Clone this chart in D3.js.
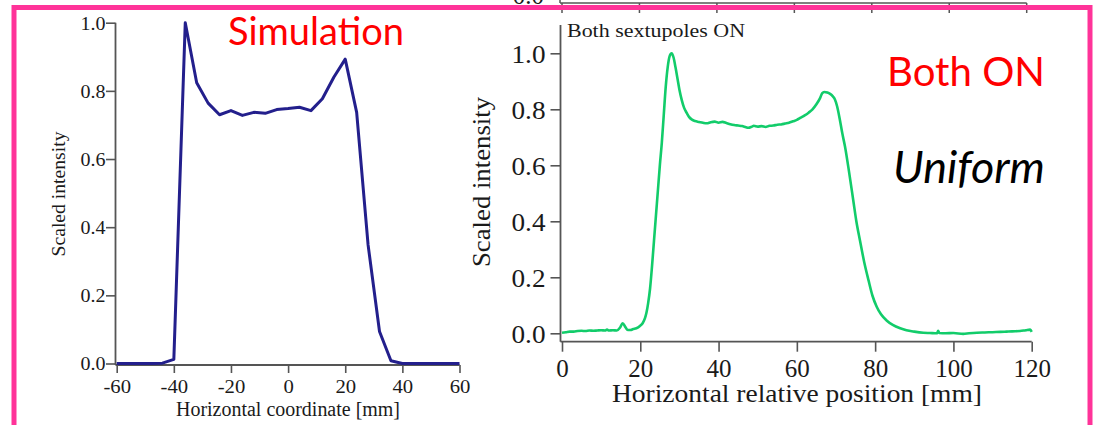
<!DOCTYPE html>
<html><head><meta charset="utf-8">
<script src="https://cdn.jsdelivr.net/npm/d3@7"></script>
<style>html,body{margin:0;padding:0;background:#fff;overflow:hidden}</style>
</head><body>
<svg id="c" width="1095" height="425"></svg>
<script>
// ---- Simulation (left) ----
const simX = [-60,-56,-52,-48,-44,-40,-36,-32,-28,-24,-20,-16,-12,-8,-4,0,4,8,12,16,20,24,28,32,36,40,44,48,52,56,60];
const simY = [0,0,0,0,0.001,0.012,1.0,0.824,0.764,0.730,0.742,0.728,0.737,0.734,0.745,0.748,0.752,0.742,0.777,0.840,0.893,0.737,0.348,0.094,0.008,0,0,0,0,0,0];
const simXTicks = [-60,-40,-20,0,20,40,60];
const simYTicks = [0,0.2,0.4,0.6,0.8,1.0];

// ---- Measured, both sextupoles ON (right) ----
const measX = [0,1,2,3,4,5,6,7,8,9,10,11,11.5,12,13,14,14.8,15.5,16.2,16.8,17.5,18.2,19,19.9,20.6,21.2,21.6,22,22.5,23,23.5,24,24.5,25,25.5,26,26.5,27,27.5,28,28.5,29,29.5,30,30.6,31.2,31.9,32.5,33.2,34,35,36,37,38,39,40,41,42,43,44,45,46,47,47.6,48.5,49,50,51,52,53,54,55,56,57,58,59,60,61,62,63,64,65,65.9,66.5,67,67.8,68.5,69.2,69.7,70.3,71,71.6,72.3,73.3,74.4,75.2,76.1,77.2,78.3,79.3,80.4,81.5,83,84.5,86.4,88,90,92.3,94,95.8,96.1,96.4,98,100,102.5,104,106,108,110,112,113.6,115,117,118.5,119.6,120];
const measY = [0.002,0.004,0.006,0.006,0.008,0.009,0.008,0.010,0.009,0.010,0.011,0.010,0.013,0.010,0.011,0.010,0.020,0.036,0.022,0.012,0.012,0.015,0.018,0.026,0.036,0.054,0.075,0.107,0.16,0.24,0.33,0.42,0.51,0.60,0.68,0.78,0.88,0.95,0.99,1.0,0.985,0.95,0.91,0.87,0.833,0.805,0.786,0.772,0.763,0.758,0.755,0.752,0.750,0.754,0.756,0.752,0.755,0.751,0.747,0.744,0.742,0.740,0.736,0.734,0.738,0.741,0.738,0.740,0.737,0.741,0.742,0.745,0.746,0.749,0.752,0.757,0.762,0.770,0.778,0.788,0.800,0.818,0.839,0.858,0.862,0.860,0.855,0.846,0.836,0.810,0.762,0.715,0.667,0.580,0.476,0.400,0.333,0.255,0.190,0.135,0.095,0.068,0.045,0.030,0.018,0.011,0.006,0.002,0.001,0.000,0.009,0.001,0.000,0.001,-0.002,0.000,0.002,0.003,0.004,0.005,0.006,0.007,0.008,0.011,0.013,0.005];
const measXTicks = [0,20,40,60,80,100,120];
const measYTicks = [0,0.2,0.4,0.6,0.8,1.0];

// fragment of the chart above (cut off)
const topXTicks = [0,20,40,60,80,100,120];

const svg = d3.select("#c");
const SERIF = "'Liberation Serif','Times New Roman',serif";
const AX = "#555";
const TXT = "#1a1a1a";
const hy = d => String(d).replace("\u2212","-");

// horizontally stretch a text to a target width (the source figure is stretched)
function stretch(sel, w){
  sel.attr("textLength", w).attr("lengthAdjust","spacingAndGlyphs");
}

// ---------- top fragment ----------
const xTop = d3.scaleLinear().domain([0,120]).range([562,1026.7]);
const gTop = svg.append("g");
gTop.append("line").attr("x1",560).attr("x2",1026.7).attr("y1",3).attr("y2",3).attr("stroke",AX).attr("stroke-width",1.5);
gTop.append("line").attr("x1",560).attr("x2",560).attr("y1",0).attr("y2",3).attr("stroke",AX).attr("stroke-width",1.5);
gTop.selectAll("line.t").data(topXTicks).join("line").attr("class","t")
  .attr("x1",d=>xTop(d)).attr("x2",d=>xTop(d)).attr("y1",3).attr("y2",13).attr("stroke",AX).attr("stroke-width",1.5);
gTop.append("text").attr("x",544).attr("y",4).attr("text-anchor","end")
  .attr("font-family",SERIF).attr("font-size",25).attr("fill",TXT).text("0.0");

// ---------- left chart ----------
const xL = d3.scaleLinear().domain([-60,60]).range([116.7,459.5]);
const yL = d3.scaleLinear().domain([0,1]).range([363.5,22.7]);
const gL = svg.append("g");
const axYL = gL.append("g").attr("transform","translate(115.5,0)")
  .call(d3.axisLeft(yL).tickValues(simYTicks).tickFormat(d3.format(".1f")).tickSize(9.5).tickSizeOuter(0));
axYL.select(".domain").remove();
axYL.selectAll("line").attr("stroke",AX).attr("stroke-width",1.6);
axYL.selectAll("text").attr("x",-10).attr("dy","0.35em").attr("font-family",SERIF).attr("font-size",18).attr("fill",TXT)
  .each(function(){ stretch(d3.select(this), 25); });
const axXL = gL.append("g").attr("transform","translate(0,365)")
  .call(d3.axisBottom(xL).tickValues(simXTicks).tickFormat(d=>hy(d)).tickSize(8).tickSizeOuter(0));
axXL.select(".domain").remove();
axXL.selectAll("line").attr("stroke",AX).attr("stroke-width",1.6);
axXL.selectAll("text").attr("y",28).attr("dy",null).attr("font-family",SERIF).attr("font-size",18).attr("fill",TXT)
  .each(function(d){ const s=d3.select(this); s.attr("textLength", s.node().getComputedTextLength()*1.15).attr("lengthAdjust","spacingAndGlyphs"); });
gL.append("line").attr("x1",115.5).attr("x2",115.5).attr("y1",yL(1)).attr("y2",365).attr("stroke",AX).attr("stroke-width",1.8);
gL.append("line").attr("x1",115.5).attr("x2",xL(60)).attr("y1",365).attr("y2",365).attr("stroke",AX).attr("stroke-width",1.8);
gL.append("path").datum(simX.map((x,i)=>[x,simY[i]]))
  .attr("fill","none").attr("stroke","#231f8c").attr("stroke-width",3).attr("stroke-linejoin","round")
  .attr("d",d3.line().x(d=>xL(d[0])).y(d=>yL(d[1])));
stretch(gL.append("text").attr("x",176).attr("y",416)
  .attr("font-family",SERIF).attr("font-size",20).attr("fill",TXT).text("Horizontal coordinate [mm]"),224);
stretch(gL.append("text").attr("transform","translate(65,256.5) rotate(-90)")
  .attr("font-family",SERIF).attr("font-size",19).attr("fill",TXT).text("Scaled intensity"),125);

// ---------- right chart ----------
const xR = d3.scaleLinear().domain([0,120]).range([562,1031.7]);
const yR = d3.scaleLinear().domain([0,1]).range([333.3,53.3]);
const gR = svg.append("g");
const axYR = gR.append("g").attr("transform","translate(560.5,0)")
  .call(d3.axisLeft(yR).tickValues(measYTicks).tickFormat(d3.format(".1f")).tickSize(10).tickSizeOuter(0));
axYR.select(".domain").remove();
axYR.selectAll("line").attr("stroke",AX).attr("stroke-width",1.6);
axYR.selectAll("text").attr("x",-15).attr("dy","0.35em").attr("font-family",SERIF).attr("font-size",25).attr("fill",TXT)
  .each(function(){ stretch(d3.select(this), 34); });
const axXR = gR.append("g").attr("transform","translate(0,341.7)")
  .call(d3.axisBottom(xR).tickValues(measXTicks).tickSize(10).tickSizeOuter(0));
axXR.select(".domain").remove();
axXR.selectAll("line").attr("stroke",AX).attr("stroke-width",1.6);
axXR.selectAll("text").attr("y",35).attr("dy",null).attr("font-family",SERIF).attr("font-size",25).attr("fill",TXT);
gR.append("line").attr("x1",560.5).attr("x2",560.5).attr("y1",25).attr("y2",341.7).attr("stroke",AX).attr("stroke-width",1.8);
gR.append("line").attr("x1",560.5).attr("x2",xR(120)).attr("y1",341.7).attr("y2",341.7).attr("stroke",AX).attr("stroke-width",1.8);
gR.append("path").datum(measX.map((x,i)=>[x,measY[i]]))
  .attr("fill","none").attr("stroke","#12cc6a").attr("stroke-width",2.6).attr("stroke-linejoin","round")
  .attr("d",d3.line().x(d=>xR(d[0])).y(d=>yR(d[1])).curve(d3.curveMonotoneX));
stretch(gR.append("text").attr("x",612).attr("y",402)
  .attr("font-family",SERIF).attr("font-size",26).attr("fill",TXT).text("Horizontal relative position [mm]"),370);
stretch(gR.append("text").attr("transform","translate(490,267) rotate(-90)")
  .attr("font-family",SERIF).attr("font-size",25).attr("fill",TXT).text("Scaled intensity"),170);
stretch(gR.append("text").attr("x",567).attr("y",37).attr("font-family",SERIF).attr("font-size",18.5).attr("fill",TXT).text("Both sextupoles ON"),178);

// ---------- annotations ----------
const SANS = "Lato,'Open Sans',sans-serif";
function fit(sel, w){ const l = sel.node().getComputedTextLength(); const fs = +sel.attr("font-size"); sel.attr("font-size", fs*w/l); }
fit(svg.append("text").attr("x",228).attr("y",45).attr("font-family",SANS).attr("font-size",36).attr("fill","#ff0000").text("Simulation"),176);
fit(svg.append("text").attr("x",887).attr("y",86).attr("font-family",SANS).attr("font-size",40).attr("fill","#ff0000").text("Both ON"),158);
fit(svg.append("text").attr("x",893).attr("y",183).attr("font-family",SANS).attr("font-style","italic").attr("font-size",40).attr("fill","#000").text("Uniform"),152);

// ---------- pink frame ----------
svg.append("rect").attr("x",14).attr("y",7.5).attr("width",1076).attr("height",520)
  .attr("fill","none").attr("stroke","#ff3399").attr("stroke-width",5);
</script>
</body></html>
